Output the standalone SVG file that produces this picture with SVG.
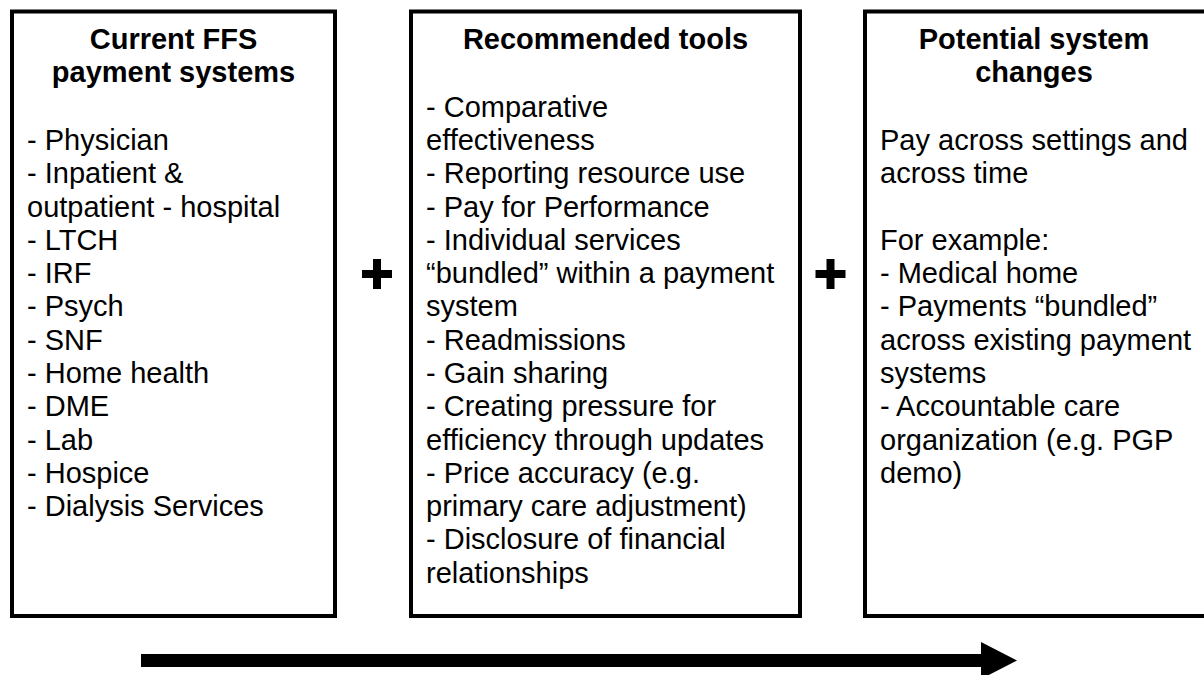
<svg xmlns="http://www.w3.org/2000/svg" width="1204" height="675" viewBox="0 0 1204 675">
<style>
.box{fill:#fff;stroke:#000;stroke-width:4}
.t{font-family:"Liberation Sans",Arial,sans-serif;font-size:29px;fill:#000}
.h{font-weight:bold;text-anchor:middle}
.plus{fill:#000}
</style>
<rect width="1204" height="675" fill="#fff"/>
<g id="node-current">
<rect class="box" x="12" y="11.5" width="323" height="604.5"/>
<text class="t h" x="173.5" y="48.5">Current FFS</text>
<text class="t h" x="173.5" y="81.8">payment systems</text>
<text class="t" x="27" y="149.9">- Physician<tspan x="27" dy="33.3">- Inpatient &amp;</tspan><tspan x="27" dy="33.3">outpatient - hospital</tspan><tspan x="27" dy="33.3">- LTCH</tspan><tspan x="27" dy="33.3">- IRF</tspan><tspan x="27" dy="33.3">- Psych</tspan><tspan x="27" dy="33.3">- SNF</tspan><tspan x="27" dy="33.3">- Home health</tspan><tspan x="27" dy="33.3">- DME</tspan><tspan x="27" dy="33.3">- Lab</tspan><tspan x="27" dy="33.3">- Hospice</tspan><tspan x="27" dy="33.3">- Dialysis Services</tspan></text>
</g>
<g id="node-tools">
<rect class="box" x="411" y="11.5" width="389" height="604.5"/>
<text class="t h" x="605.5" y="48.5">Recommended tools</text>
<text class="t" x="426" y="116.6">- Comparative<tspan x="426" dy="33.3">effectiveness</tspan><tspan x="426" dy="33.3">- Reporting resource use</tspan><tspan x="426" dy="33.3">- Pay for Performance</tspan><tspan x="426" dy="33.3">- Individual services</tspan><tspan x="426" dy="33.3">“bundled” within a payment</tspan><tspan x="426" dy="33.3">system</tspan><tspan x="426" dy="33.3">- Readmissions</tspan><tspan x="426" dy="33.3">- Gain sharing</tspan><tspan x="426" dy="33.3">- Creating pressure for</tspan><tspan x="426" dy="33.3">efficiency through updates</tspan><tspan x="426" dy="33.3">- Price accuracy (e.g.</tspan><tspan x="426" dy="33.3">primary care adjustment)</tspan><tspan x="426" dy="33.3">- Disclosure of financial</tspan><tspan x="426" dy="33.3">relationships</tspan></text>
</g>
<g id="node-changes">
<rect class="box" x="865" y="11.5" width="345" height="604.5"/>
<text class="t h" x="1034" y="48.5">Potential system</text>
<text class="t h" x="1034" y="81.8">changes</text>
<text class="t" x="880" y="149.9">Pay across settings and<tspan x="880" dy="33.3">across time</tspan><tspan x="880" dy="66.6">For example:</tspan><tspan x="880" dy="33.3">- Medical home</tspan><tspan x="880" dy="33.3">- Payments “bundled”</tspan><tspan x="880" dy="33.3">across existing payment</tspan><tspan x="880" dy="33.3">systems</tspan><tspan x="880" dy="33.3">- Accountable care</tspan><tspan x="880" dy="33.3">organization (e.g. PGP</tspan><tspan x="880" dy="33.3">demo)</tspan></text>
</g>
<g id="connectors">
<path class="plus" d="M362 270h11v-11h8v11h11v8h-11v11h-8v-11h-11z"/>
<path class="plus" d="M815.5 270h11v-11h8v11h11v8h-11v11h-8v-11h-11z"/>
<path fill="#000" d="M141 654H981V642L1017 660.5L981 679V667H141Z"/>
</g>
</svg>
